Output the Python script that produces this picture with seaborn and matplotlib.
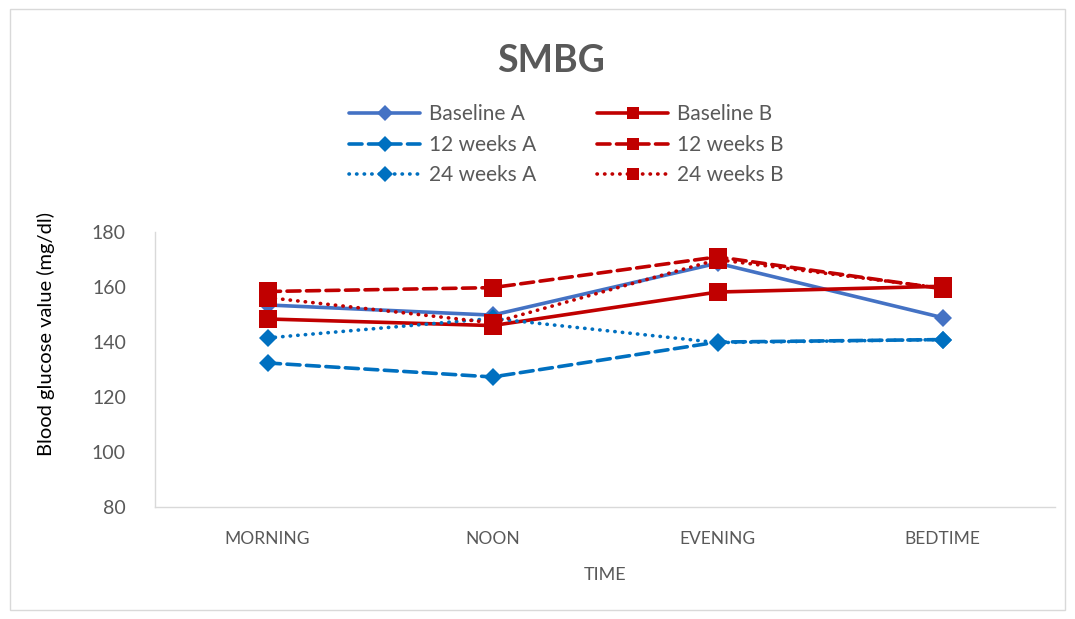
import matplotlib
matplotlib.use("Agg")
import matplotlib.pyplot as plt
from matplotlib.patches import Rectangle
from matplotlib.lines import Line2D
import pandas as pd
import seaborn as sns

# Self-monitored blood glucose by time of day
times = ["MORNING", "NOON", "EVENING", "BEDTIME"]
baseline_a = [153.5, 149.8, 168.7, 148.9]
baseline_b = [148.4, 146.0, 158.2, 160.3]
weeks12_a = [132.4, 127.3, 140.0, 140.9]
weeks12_b = [158.4, 159.8, 171.0, 159.4]
weeks24_a = [141.5, 148.6, 139.8, 140.9]
weeks24_b = [156.2, 147.0, 170.0, 159.6]

series_names = ["Baseline A", "Baseline B", "12 weeks A", "12 weeks B", "24 weeks A", "24 weeks B"]
series_values = [baseline_a, baseline_b, weeks12_a, weeks12_b, weeks24_a, weeks24_b]

blue_light = "#4472C4"
blue = "#0070C0"
red = "#C00000"
dashed = (0, (3.6, 1.8))
dotted = (0, (0.1, 2.0))
styles = {
    "Baseline A": dict(color=blue_light, ls="-", marker="D", ms=9.5, lscale=0.9),
    "Baseline B": dict(color=red, ls="-", marker="s", ms=12.5, lscale=0.72),
    "12 weeks A": dict(color=blue, ls=dashed, marker="D", ms=9.5, lscale=0.9),
    "12 weeks B": dict(color=red, ls=dashed, marker="s", ms=12.5, lscale=0.72),
    "24 weeks A": dict(color=blue, ls=dotted, marker="D", ms=9.5, lscale=0.9),
    "24 weeks B": dict(color=red, ls=dotted, marker="s", ms=12.5, lscale=0.72),
}

rows = []
for name, vals in zip(series_names, series_values):
    for i, v in enumerate(vals):
        rows.append({"series": name, "pos": i, "value": v})
df = pd.DataFrame(rows)

sns.set_theme(style="white")
plt.rcParams["font.family"] = ["Lato", "DejaVu Sans"]

fig = plt.figure(figsize=(10.75, 6.19), dpi=100)
ax = fig.add_axes([0.1442, 0.181, 0.8372, 0.444])

# light frame around the whole chart
fig.patches.append(Rectangle((0.009, 0.015), 0.982, 0.97, transform=fig.transFigure,
                             fill=False, edgecolor="#D9D9D9", linewidth=1.0))

for name in series_names:
    st = styles[name]
    sub = df[df["series"] == name]
    sns.lineplot(data=sub, x="pos", y="value", ax=ax, color=st["color"],
                 linestyle=st["ls"], linewidth=2.6, marker=st["marker"],
                 markersize=st["ms"], markeredgewidth=0, dash_capstyle="round",
                 solid_capstyle="round", legend=False, sort=False)

ax.set_xlim(-0.5, 3.5)
ax.set_ylim(80, 180)
ax.set_yticks([80, 100, 120, 140, 160, 180])
ax.set_xticks(range(len(times)))
ax.set_xticklabels(times)
ax.tick_params(axis="both", length=0, labelcolor="#595959")
ax.tick_params(axis="x", pad=17, labelsize=12.5)
ax.tick_params(axis="y", pad=21, labelsize=14)

for side in ["top", "right"]:
    ax.spines[side].set_visible(False)
for side in ["left", "bottom"]:
    ax.spines[side].set_color("#D9D9D9")
    ax.spines[side].set_linewidth(1.0)

ax.set_xlabel("TIME", fontsize=13, color="#595959", labelpad=15)
ax.set_ylabel("Blood glucose value (mg/dl)", fontsize=14.5, color="black")
ax.yaxis.set_label_coords(-0.111, 0.63)

fig.text(0.5126, 0.902, "SMBG", ha="center", va="center", fontsize=27,
         fontweight="bold", color="#595959")

# legend keys: smaller markers than the plotted points
order = ["Baseline A", "12 weeks A", "24 weeks A", "Baseline B", "12 weeks B", "24 weeks B"]
leg_handles = []
for name in order:
    st = styles[name]
    leg_handles.append(Line2D([], [], color=st["color"], linestyle=st["ls"], linewidth=2.6,
                              marker=st["marker"], markersize=st["ms"] * st["lscale"],
                              markeredgewidth=0, dash_capstyle="round",
                              solid_capstyle="round"))
leg = fig.legend(leg_handles, order, ncol=2, loc="center",
                 bbox_to_anchor=(0.527, 0.766), frameon=False, fontsize=15,
                 handlelength=3.4, columnspacing=2.9, labelspacing=0.5,
                 handletextpad=0.45)
for t in leg.get_texts():
    t.set_color("#595959")

fig.savefig("out.png", dpi=100)
